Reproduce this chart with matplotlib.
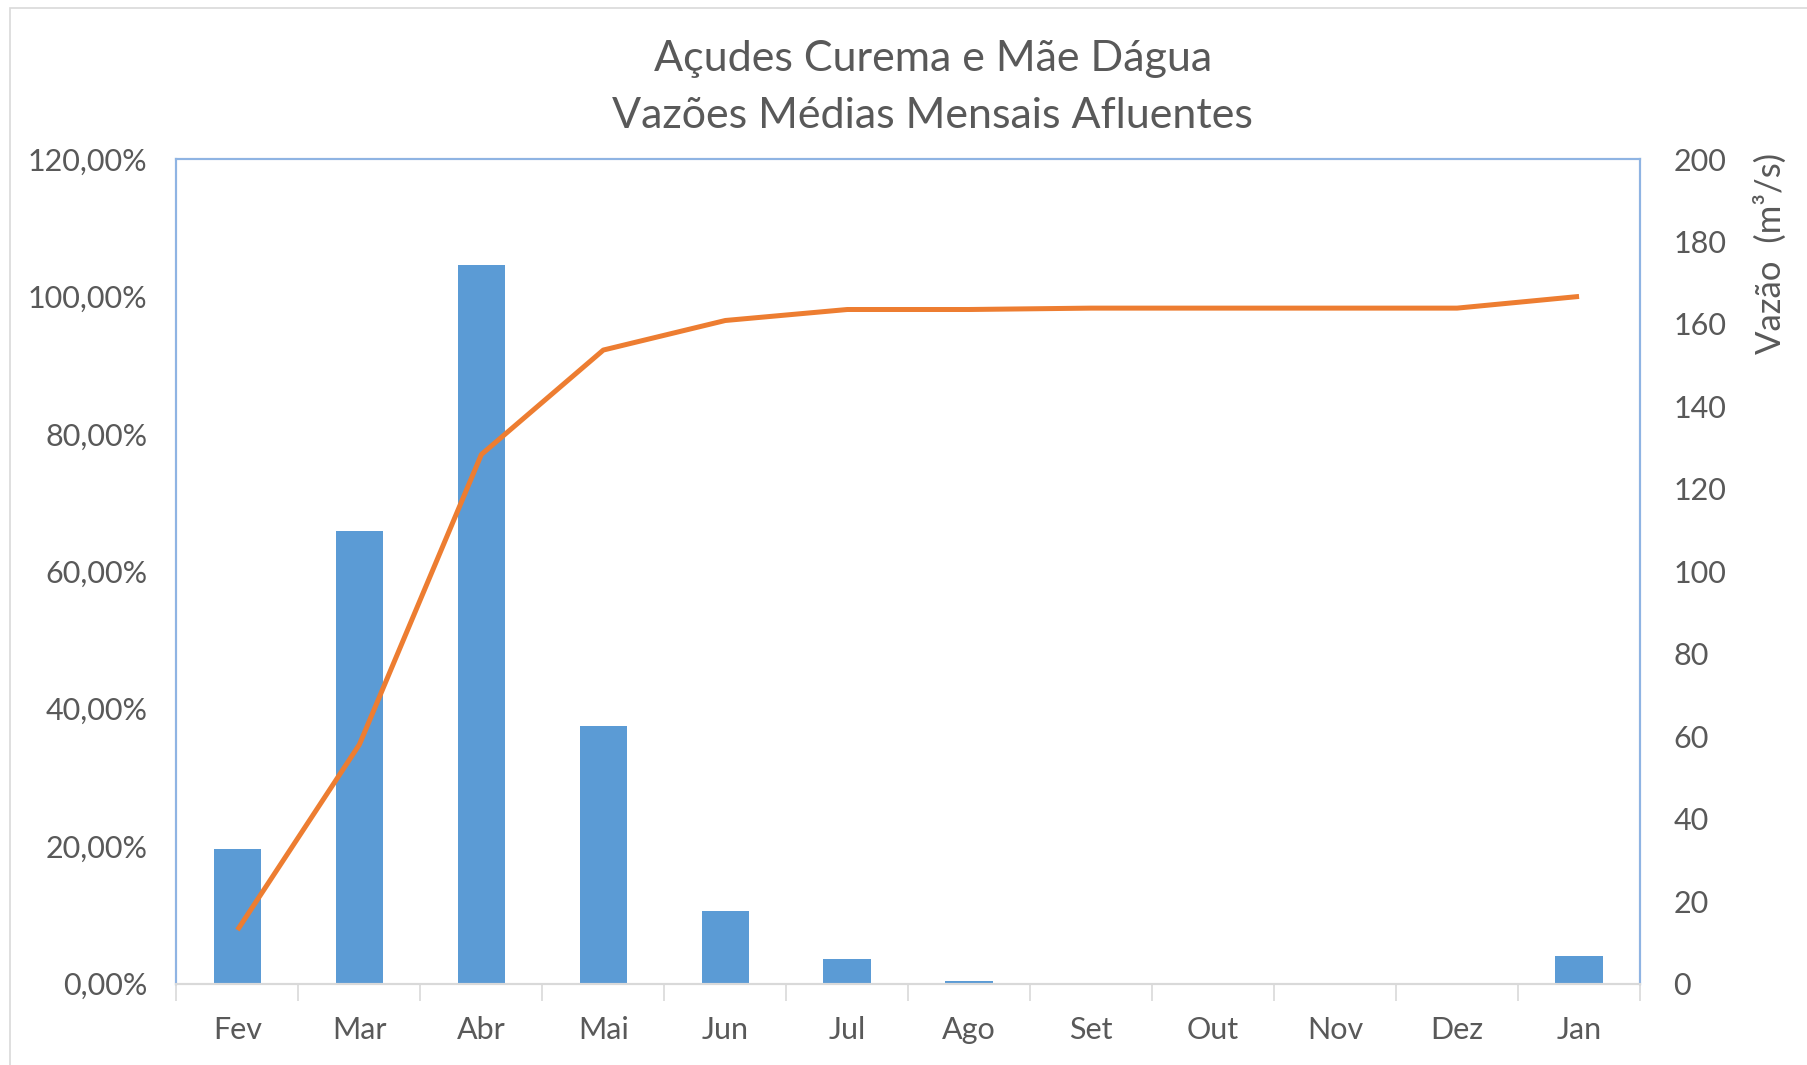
import matplotlib.pyplot as plt
from matplotlib.patches import Rectangle
from matplotlib.ticker import FixedLocator

plt.rcParams["font.family"] = ["Lato", "DejaVu Sans"]

meses = ["Fev", "Mar", "Abr", "Mai", "Jun", "Jul", "Ago", "Set", "Out", "Nov", "Dez", "Jan"]
vazao = [32.7, 109.9, 174.3, 62.4, 17.6, 5.9, 0.6, 0.0, 0.0, 0.0, 0.0, 6.7]
acumulado = [7.8, 34.8, 77.0, 92.2, 96.5, 98.1, 98.1, 98.3, 98.3, 98.3, 98.3, 100.0]

cor_barra = "#5B9BD5"
cor_linha = "#ED7D31"
cor_texto = "#595959"
cor_borda = "#8FB4E3"

fig = plt.figure(figsize=(18.08, 10.65), dpi=100)
fig.patches.append(Rectangle((0.0055, -0.01), 1.0, 1.0 - 0.0075 + 0.01, transform=fig.transFigure,
                             fill=False, edgecolor="#D9D9D9", linewidth=1.2))

ax = fig.add_axes([0.0976, 0.0764, 0.8095, 0.7743])
x = list(range(len(meses)))
ax.bar(x, vazao, width=0.39, color=cor_barra, zorder=2)
ax.set_ylim(0, 200)
ax.set_xlim(-0.5, 11.5)

ax.set_xticks(x)
ax.set_xticklabels(meses)
ax.xaxis.set_minor_locator(FixedLocator([i - 0.5 for i in range(len(meses) + 1)]))
ax.tick_params(axis="x", which="major", length=0, pad=23, labelsize=22, labelcolor=cor_texto)
ax.tick_params(axis="x", which="minor", length=12, width=1.2, color="#D9D9D9", direction="out")

ax2 = ax.twinx()
ax2.plot(x, acumulado, color=cor_linha, linewidth=3.6, solid_capstyle="butt", zorder=3)
ax2.set_ylim(0, 120)
ax2.yaxis.tick_left()
ax2.set_yticks(range(0, 121, 20))
ax2.set_yticklabels([f"{v},00%" for v in range(0, 121, 20)])
ax2.tick_params(axis="y", length=0, pad=21, labelsize=22, labelcolor=cor_texto)

# barras no eixo da direita (twinx move os ticks do ax para a esquerda)
ax.yaxis.tick_right()
ax.set_yticks(range(0, 201, 20))
ax.tick_params(axis="y", length=0, pad=24, labelsize=22, labelcolor=cor_texto)

for a in (ax, ax2):
    for lado in ("left", "right", "top"):
        a.spines[lado].set_color(cor_borda)
        a.spines[lado].set_linewidth(1.5)
    a.spines["bottom"].set_color("#D9D9D9")
    a.spines["bottom"].set_linewidth(1.5)

fig.text(0.516, 0.945, "Açudes Curema e Mãe Dágua", ha="center", va="center",
         fontsize=31, color=cor_texto)
fig.text(0.516, 0.891, "Vazões Médias Mensais Afluentes", ha="center", va="center",
         fontsize=31, color=cor_texto)
fig.text(0.979, 0.762, "Vazão  (m³/s)", rotation=90, ha="center", va="center",
         fontsize=25, color=cor_texto)

fig.savefig("out.png", dpi=100)
